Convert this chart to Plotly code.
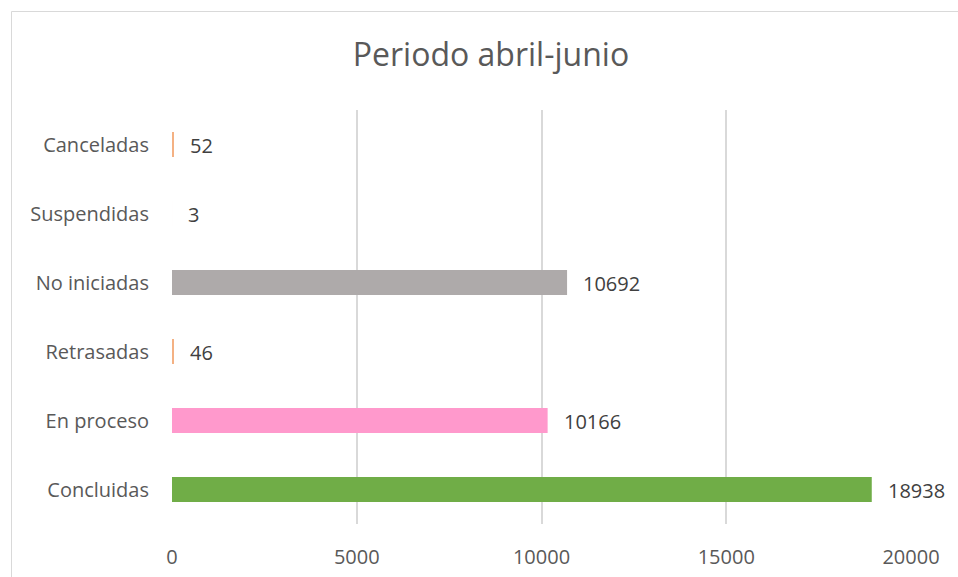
import plotly.graph_objects as go

categorias = ["Concluidas", "En proceso", "Retrasadas", "No iniciadas", "Suspendidas", "Canceladas"]
valores = [18938, 10166, 46, 10692, 3, 52]
colores = ["#70AD47", "#FF99CC", "#F4B183", "#AEAAAA", "rgba(244,177,131,0.08)", "#F4B183"]
ticks_x = [0, 5000, 10000, 15000, 20000]

W, H = 958, 577
ml, mr, mt, mb = 172, 47, 110, 53
pw, ph = W - ml - mr, H - mt - mb

fig = go.Figure()
fig.add_trace(go.Bar(
    y=categorias,
    x=valores,
    orientation="h",
    marker=dict(color=colores, line=dict(width=0)),
    width=0.36,
    hoverinfo="x+y",
    showlegend=False,
))

# etiquetas de datos a la derecha de cada barra
for cat, val in zip(categorias, valores):
    fig.add_annotation(
        x=val, y=cat, text=str(val),
        xanchor="left", yanchor="middle", xshift=14, yshift=-1,
        showarrow=False,
        font=dict(family="Open Sans", size=20, color="#404040"),
    )

# borde del área del gráfico
fig.add_shape(
    type="rect", xref="paper", yref="paper",
    x0=(11.5 - ml) / pw, x1=1.3,
    y0=-0.3, y1=(H - mb - 11.5) / ph,
    line=dict(color="#D9D9D9", width=1),
    fillcolor="rgba(0,0,0,0)", layer="below",
)

fig.update_layout(
    width=W, height=H,
    margin=dict(l=ml, r=mr, t=mt, b=mb, autoexpand=False),
    paper_bgcolor="white", plot_bgcolor="white",
    font=dict(family="Open Sans", color="#595959"),
    title=dict(
        text="Periodo abril-junio",
        font=dict(family="Open Sans", size=32, color="#595959"),
        xref="container", x=0.5125, xanchor="center",
        yref="container", y=1 - 55 / H, yanchor="middle",
    ),
    bargap=0.64,
)
fig.update_xaxes(
    range=[0, 20000],
    tickvals=ticks_x,
    ticktext=[str(t) for t in ticks_x],
    showgrid=True, gridcolor="#D9D9D9", gridwidth=1.5,
    zeroline=False, showline=False,
    tickfont=dict(size=20, color="#595959"),
    ticks="outside", ticklen=15, tickcolor="rgba(0,0,0,0)",
    automargin=False,
)
fig.update_yaxes(
    showgrid=False, zeroline=False, showline=False,
    tickfont=dict(size=20, color="#595959"),
    ticks="outside", ticklen=18, tickcolor="rgba(0,0,0,0)",
    automargin=False,
)

fig.write_html(
    "out.html",
    config={"displayModeBar": False},
    post_script="document.body.style.margin='0px'; document.body.style.overflow='hidden';",
)
